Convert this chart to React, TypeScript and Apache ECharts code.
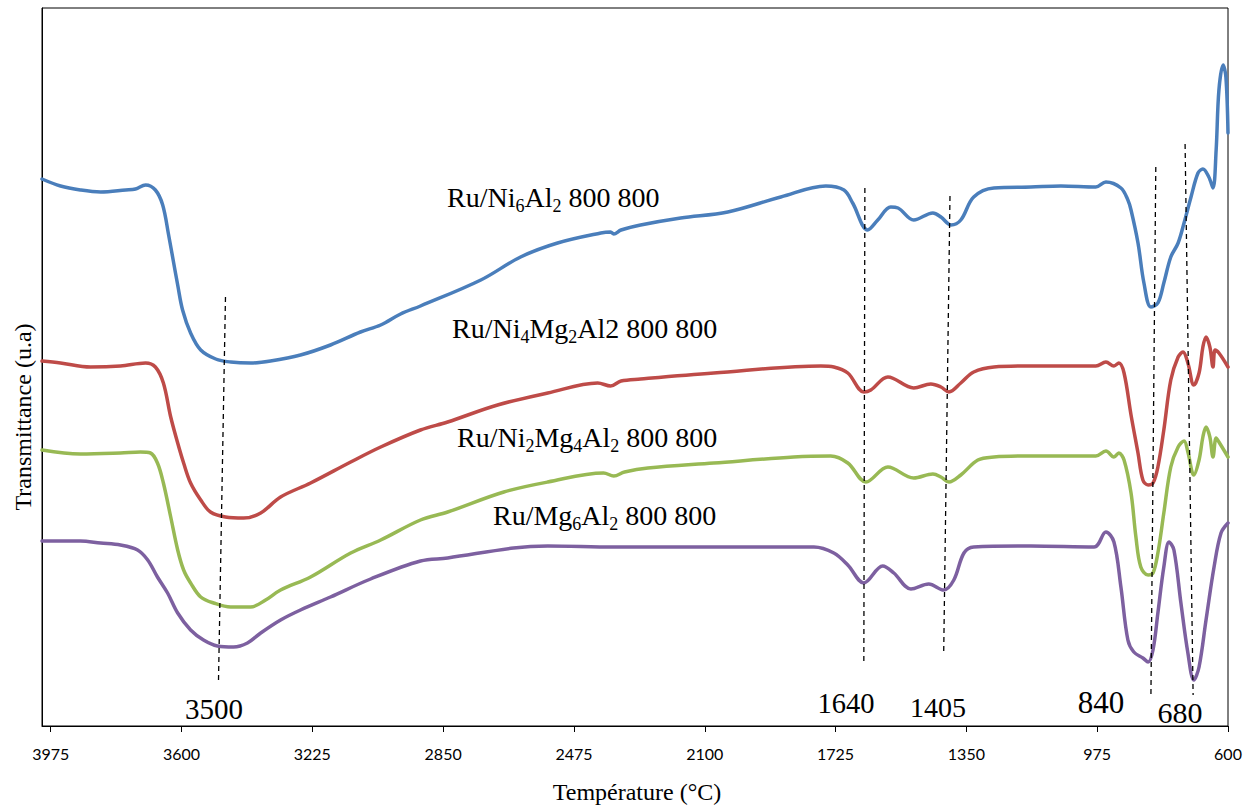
import React, { useEffect, useRef } from 'react';
import * as echarts from 'echarts';

const W = 1253;
const H = 805;

// x: wavenumber (cm-1), y: transmittance (arbitrary units)
const ruNi6Al2: [number, number][] = [
  [4000, 54.7], [3947, 54.0], [3890, 53.6], [3832, 53.4], [3760, 53.6], [3732, 53.7], [3703, 54.1], [3675, 53.6],
  [3654, 52.1], [3637, 49.1], [3623, 46.4], [3611, 44.1], [3597, 41.6], [3574, 39.3], [3545, 37.6], [3502, 36.7],
  [3459, 36.4], [3402, 36.3], [3345, 36.5], [3259, 37.1], [3173, 38.1], [3087, 39.4], [3029, 40.1], [2972, 41.2],
  [2915, 42.0], [2742, 44.6], [2628, 46.9], [2522, 48.3], [2398, 49.3], [2370, 49.4], [2361, 49.2], [2340, 49.6],
  [2284, 50.1], [2169, 50.8], [2034, 51.4], [1882, 52.9], [1753, 54.0], [1701, 53.6], [1676, 52.3], [1633, 49.6],
  [1604, 50.6], [1567, 51.9], [1546, 51.8], [1501, 50.6], [1446, 51.3], [1423, 50.9], [1394, 50.1], [1366, 50.6],
  [1329, 52.9], [1271, 53.8], [1165, 53.9], [1079, 54.0], [979, 53.9], [950, 54.4], [907, 53.8], [887, 52.6],
  [878, 51.6], [858, 48.3], [841, 44.3], [821, 41.9], [801, 42.3], [784, 44.3], [764, 46.9], [743, 48.3],
  [726, 50.3], [706, 52.9], [686, 55.3], [672, 55.7], [655, 54.9], [643, 53.8], [634, 57.6], [626, 63.6],
  [614, 66.1], [606, 64.9], [600, 59.3],
];

const ruNi4Mg2Al2: [number, number][] = [
  [4000, 36.5], [3947, 36.3], [3861, 35.9], [3775, 36.0], [3703, 36.3], [3675, 35.9], [3652, 34.3], [3631, 30.9],
  [3611, 28.3], [3594, 26.3], [3574, 24.3], [3545, 22.6], [3517, 21.4], [3474, 20.9], [3422, 20.8], [3373, 21.3],
  [3316, 22.9], [3230, 24.3], [3115, 26.4], [3029, 27.9], [2915, 29.6], [2837, 30.4], [2694, 32.1], [2550, 33.3],
  [2407, 34.3], [2370, 34.0], [2340, 34.5], [2284, 34.7], [2074, 35.3], [1767, 36.0], [1730, 35.9], [1690, 35.3],
  [1644, 33.4], [1624, 33.6], [1575, 34.9], [1501, 33.8], [1452, 34.2], [1423, 33.9], [1400, 33.4], [1366, 34.3],
  [1329, 35.4], [1271, 35.9], [1165, 36.0], [979, 36.0], [950, 36.4], [927, 36.0], [913, 36.3], [898, 35.3],
  [878, 31.1], [858, 27.3], [844, 24.6], [829, 24.1], [815, 24.3], [801, 25.9], [784, 29.6], [764, 34.6],
  [743, 36.9], [729, 37.4], [715, 36.3], [698, 34.1], [683, 35.3], [672, 37.9], [663, 38.9], [652, 37.9],
  [643, 35.9], [637, 37.6], [626, 37.3], [600, 35.9],
];

const ruNi2Mg4Al2: [number, number][] = [
  [4000, 27.6], [3890, 27.2], [3775, 27.3], [3718, 27.4], [3689, 27.3], [3669, 26.3], [3652, 24.3], [3631, 20.9],
  [3611, 17.6], [3594, 15.6], [3574, 14.3], [3545, 12.9], [3508, 12.3], [3459, 11.9], [3402, 11.9], [3359, 12.6],
  [3316, 13.6], [3230, 14.9], [3115, 17.3], [3029, 18.6], [2915, 20.6], [2837, 21.4], [2676, 23.4], [2550, 24.4],
  [2390, 25.3], [2361, 25.0], [2330, 25.4], [2263, 25.8], [2074, 26.3], [1845, 26.9], [1739, 27.0], [1690, 26.3],
  [1638, 24.4], [1575, 25.9], [1501, 24.8], [1446, 25.2], [1423, 24.9], [1400, 24.4], [1366, 25.1], [1317, 26.6],
  [1271, 26.9], [1165, 27.0], [979, 27.0], [950, 27.5], [927, 26.9], [913, 27.3], [898, 26.6], [878, 23.3],
  [864, 18.9], [850, 15.9], [829, 15.1], [815, 15.3], [801, 17.3], [784, 21.3], [764, 25.9], [743, 27.9],
  [726, 28.5], [715, 27.4], [698, 25.1], [683, 26.6], [672, 28.9], [663, 29.9], [652, 28.9], [643, 26.9],
  [634, 28.8], [626, 28.4], [600, 26.9],
];

const ruMg6Al2: [number, number][] = [
  [4000, 18.5], [3890, 18.5], [3832, 18.3], [3775, 18.1], [3726, 17.6], [3697, 16.6], [3669, 14.9], [3640, 13.3],
  [3611, 11.3], [3574, 9.6], [3537, 8.6], [3497, 8.0], [3451, 7.9], [3411, 8.3], [3373, 9.3], [3316, 10.6],
  [3259, 11.6], [3173, 12.9], [3058, 14.7], [2915, 16.5], [2837, 16.8], [2648, 17.8], [2550, 18.0], [2361, 17.9],
  [2074, 17.9], [1787, 17.9], [1730, 17.3], [1690, 16.1], [1644, 14.3], [1590, 16.0], [1558, 15.3], [1509, 13.7],
  [1458, 14.2], [1415, 13.6], [1386, 14.6], [1357, 17.3], [1329, 17.9], [1165, 18.0], [984, 17.9], [950, 19.4],
  [927, 18.4], [907, 13.9], [887, 8.6], [870, 7.4], [844, 6.8], [829, 6.4], [815, 7.6], [801, 11.3],
  [784, 15.9], [769, 18.4], [755, 17.6], [735, 12.3], [715, 7.3], [698, 4.6], [683, 5.9], [663, 10.6],
  [640, 15.9], [620, 19.3], [600, 20.3],
];

// dashed guide lines marking the bands
const guide3500: [number, number][] = [[3474, 42.9], [3494, 4.6]];
const guide1640: [number, number][] = [[1641, 53.8], [1644, 6.1]];
const guide1405: [number, number][] = [[1397, 53.0], [1415, 7.4]];
const guide840: [number, number][] = [[807, 55.9], [821, 2.9]];
const guide680: [number, number][] = [[723, 58.2], [700, 3.1]];

const tickValues = [600, 975, 1350, 1725, 2100, 2475, 2850, 3225, 3600, 3975];
const peakLabels = ['3500', '1640', '1405', '840', '680'];
const seriesNames = ['Ru/Ni6Al2 800 800', 'Ru/Ni4Mg2Al2 800 800', 'Ru/Ni2Mg4Al2 800 800', 'Ru/Mg6Al2 800 800'];
const seriesRich = [
  '{n|Ru/Ni}{s|6}{n|Al}{s|2}{n| 800 800}',
  '{n|Ru/Ni}{s|4}{n|Mg}{s|2}{n|Al2 800 800}',
  '{n|Ru/Ni}{s|2}{n|Mg}{s|4}{n|Al}{s|2}{n| 800 800}',
  '{n|Ru/Mg}{s|6}{n|Al}{s|2}{n| 800 800}',
];
const colors = ['#4A7EBB', '#BE4B48', '#98B954', '#7D60A0'];

const SERIF = '"Liberation Serif", "Times New Roman", serif';

export default function App() {
  const ref = useRef<HTMLDivElement>(null);
  useEffect(() => {
    if (!ref.current) return;
    const chart = echarts.init(ref.current, null, { renderer: 'svg', width: W, height: H });

    const curve = (name: string, data: [number, number][], color: string) => ({
      type: 'line',
      name,
      data,
      symbol: 'none',
      showSymbol: false,
      smooth: 0.35,
      lineStyle: { color, width: 3.5, cap: 'round', join: 'round' },
      silent: true,
      z: 2,
    });
    const guide = (data: [number, number][]) => ({
      type: 'line',
      data,
      symbol: 'none',
      showSymbol: false,
      lineStyle: { color: '#000', width: 1.3, type: [5, 4] },
      silent: true,
      z: 3,
    });

    const rich = {
      n: { fontSize: 28, fontFamily: SERIF, fill: '#000' },
      s: { fontSize: 18, fontFamily: SERIF, fill: '#000', padding: [18, 0, 0, 0] },
    };
    const labelPos = [
      [447, 197],
      [452, 328],
      [457, 437],
      [493, 515],
    ];
    const peakPos = [
      [214, 709, 29],
      [846, 703, 28.5],
      [938, 707, 28],
      [1101, 702, 31],
      [1180, 712, 30],
    ];

    const graphics: any[] = [];
    seriesRich.forEach((t, i) => {
      graphics.push({
        type: 'text',
        x: labelPos[i][0],
        y: labelPos[i][1],
        silent: true,
        style: { text: t, rich, align: 'left', verticalAlign: 'middle', fill: '#000', font: `28px ${SERIF}` },
      });
    });
    peakLabels.forEach((t, i) => {
      graphics.push({
        type: 'text',
        x: peakPos[i][0],
        y: peakPos[i][1],
        silent: true,
        style: { text: t, align: 'center', verticalAlign: 'middle', fill: '#000', font: `${peakPos[i][2]}px ${SERIF}` },
      });
    });
    graphics.push({
      type: 'text',
      x: 23,
      y: 417,
      rotation: Math.PI / 2,
      silent: true,
      style: { text: 'Transmittance (u.a)', align: 'center', verticalAlign: 'middle', fill: '#000', font: `24px ${SERIF}` },
    });
    graphics.push({
      type: 'text',
      x: 637,
      y: 792,
      silent: true,
      style: { text: 'Température (°C)', align: 'center', verticalAlign: 'middle', fill: '#000', font: `24px ${SERIF}` },
    });

    chart.setOption({
      animation: false,
      backgroundColor: '#fff',
      grid: {
        left: 42,
        right: 25,
        top: 8,
        bottom: 79,
        show: true,
        borderColor: '#000',
        borderWidth: 1,
        containLabel: false,
        outerBoundsMode: 'none',
      },
      xAxis: {
        type: 'value',
        inverse: true,
        min: 600,
        max: 4000,
        axisLine: { show: true, lineStyle: { color: '#000', width: 1 } },
        axisTick: { show: true, length: 6, lineStyle: { color: '#000' }, customValues: tickValues },
        axisLabel: {
          customValues: tickValues,
          formatter: (v: number) => String(Math.round(v)),
          color: '#000',
          fontFamily: 'Lato, "Open Sans", sans-serif',
          fontSize: 16,
          margin: 19,
        },
        splitLine: { show: false },
      },
      yAxis: {
        type: 'value',
        min: 0,
        max: 71.8,
        axisLine: { show: true, lineStyle: { color: '#000', width: 1 } },
        axisTick: { show: false },
        axisLabel: { show: false },
        splitLine: { show: false },
      },
      series: [
        curve(seriesNames[0], ruNi6Al2, colors[0]),
        curve(seriesNames[1], ruNi4Mg2Al2, colors[1]),
        curve(seriesNames[2], ruNi2Mg4Al2, colors[2]),
        curve(seriesNames[3], ruMg6Al2, colors[3]),
        guide(guide3500),
        guide(guide1640),
        guide(guide1405),
        guide(guide840),
        guide(guide680),
      ],
      graphic: graphics,
    });
    return () => chart.dispose();
  }, []);
  return (
    <div
      ref={ref}
      style={{ position: 'fixed', left: 0, top: 0, width: W, height: H, background: '#fff' }}
    />
  );
}
